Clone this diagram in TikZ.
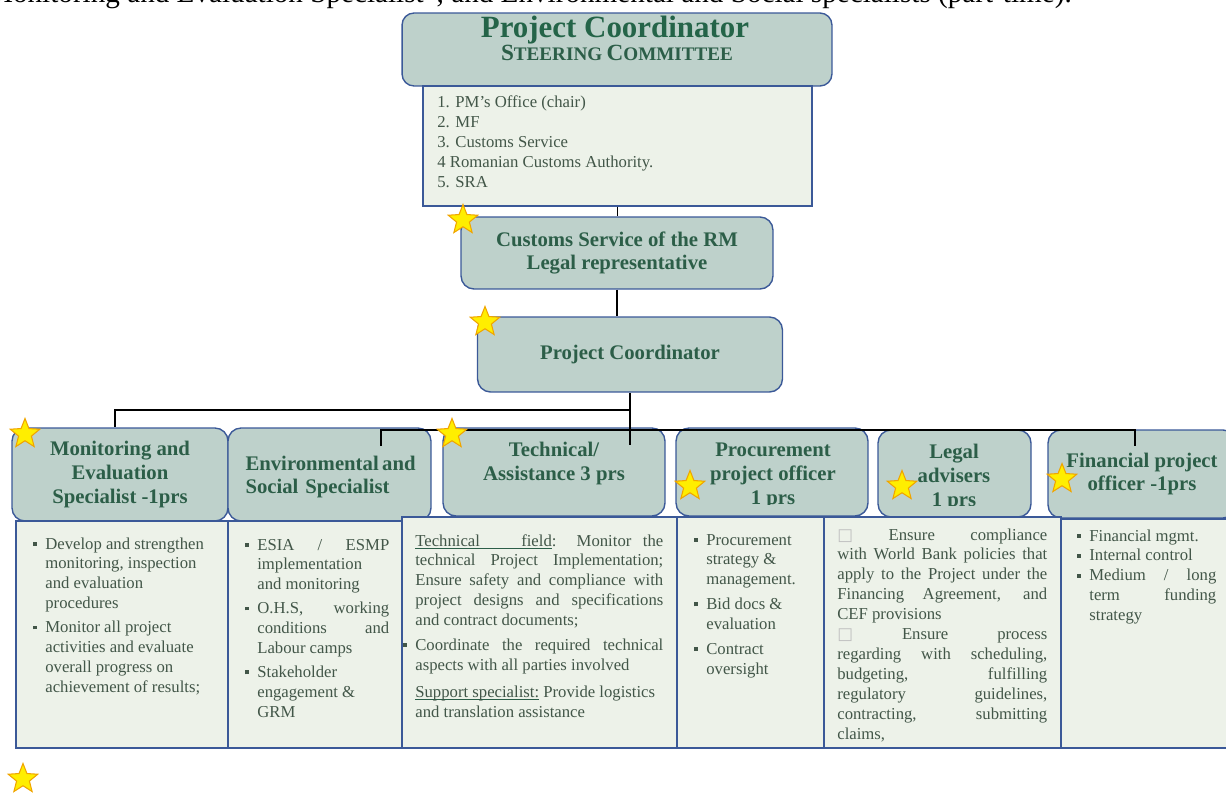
\documentclass[tikz,border=0pt]{standalone}
\usepackage{fontspec}
\setmainfont{Liberation Serif}
\newfontfamily\symfont{DejaVu Sans}
\usetikzlibrary{
  positioning,
  calc,
  shapes.geometric
}

\definecolor{hdfill}{RGB}{190,209,203}
\definecolor{detfill}{RGB}{237,242,233}
\definecolor{boxline}{RGB}{59,89,152}
\definecolor{hdgreen}{RGB}{44,94,72}
\definecolor{titlegreen}{RGB}{36,100,72}
\definecolor{bodytxt}{RGB}{66,86,72}
\definecolor{starfill}{RGB}{255,238,0}
\definecolor{starline}{RGB}{240,165,0}

\newcommand\plainsp{\spaceskip=0pt\xspaceskip=0pt\relax}
\newcommand\bsq{\leavevmode\llap{\rule[1.9pt]{2.2pt}{2.2pt}\hspace{4.6pt}}}
\newcommand\jl[1]{\leavevmode\makebox[\linewidth][s]{\plainsp #1}}
\newcommand\gbox{{\symfont\color{black!25}□}}
\newcommand\fsc[2]{{\fontsize{13.2}{14}\selectfont #1}{\fontsize{10.9}{14}\selectfont #2}}
% underline at a fixed depth, and an underlined stretchable space
\newcommand\ulw[1]{\leavevmode\setbox0\hbox{#1}\rlap{\color{hdgreen}\rule[-1.5pt]{\wd0}{0.45pt}}\box0\relax}
\newcommand\ulsp{\leavevmode{\color{hdgreen}\leaders\hrule height -1.05pt depth 1.5pt\hskip 2.4pt plus 6pt minus 0.8pt}}

\tikzset{
  hdbox/.style={rectangle, rounded corners=0.26cm, draw=boxline, line width=0.8pt,
    fill=hdfill, inner sep=0pt, align=center, text=hdgreen,
    font=\bfseries\fontsize{11.8}{13.6}\selectfont},
  hdtext/.style={inner sep=0pt, align=center, text=hdgreen,
    font=\bfseries\fontsize{11.8}{13.6}\selectfont},
  detbox/.style={rectangle, draw=boxline, line width=0.8pt, fill=detfill, inner sep=0pt},
  bodytext/.style={anchor=base west, inner sep=0pt, align=left, text=bodytxt,
    font=\fontsize{9.5}{11.34}\selectfont},
  goldstar/.style={star, star points=5, star point ratio=2.3, minimum size=0.62cm,
    inner sep=0pt, fill=starfill, draw=starline, line width=0.6pt},
  link/.style={draw=black, line width=1pt}
}

\begin{document}
\begin{tikzpicture}[x=0.02cm, y=-0.02cm]
  \useasboundingbox (0,0) rectangle (1226,794);

  % line of the page above the chart, cut by the frame
  \node[anchor=base east, inner sep=0pt, font=\fontsize{16.6}{18}\selectfont] (topline) at (1072,3)
    {Monitoring and Evaluation Specialist”, and Environmental and Social specialists (part-time).};

  % Steering committee
  \node[hdbox, rounded corners=0.24cm, minimum width=8.6cm, minimum height=1.46cm] (steer) at (617,49.5) {};
  \node[inner sep=0pt, text=titlegreen, font=\bfseries\fontsize{17.6}{18}\selectfont] (steertitle) at (615,30.5) {Project Coordinator};
  \node[inner sep=0pt, text=hdgreen, font=\bfseries] (steersub) at (617,53) {\fsc{S}{TEERING} \fsc{C}{OMMITTEE}};
  \node[detbox, minimum width=7.78cm, minimum height=2.4cm] (members) at (617.5,146) {};
  \node[bodytext, text width=7cm] (memberlist) at (437,108)
    {\plainsp 1. PM’s Office (chair)\\2. MF\\3. Customs Service\\4 Romanian Customs Authority.\\5. SRA};

  % Chain of command
  \node[hdbox, minimum width=6.24cm, minimum height=1.44cm] (customs) at (617,253)
    {Customs Service of the RM\\Legal representative};
  \node[hdbox, minimum width=6.1cm, minimum height=1.5cm] (pc) at (630,354.5) {Project Coordinator};

  % Specialists (headers)
  \node[hdbox, minimum width=4.32cm, minimum height=1.86cm] (me) at (120,474.5)
    {Monitoring and\\Evaluation\\Specialist -1prs};
  \node[hdbox, minimum width=4.06cm, minimum height=1.86cm] (env) at (329.5,474.5) {};
  \node[hdtext, text width=3.36cm, align=left] (envtxt) at ([yshift=-0.05cm]env.center)
    {\jl{Environmental and}\\Social Specialist};
  \node[hdbox, minimum width=4.44cm, minimum height=1.76cm] (tech) at (554,472) {};
  \node[hdtext] (techtxt) at ([yshift=0.17cm]tech.center) {Technical/\\Assistance 3 prs};
  \node[hdbox, minimum width=3.84cm, minimum height=1.76cm] (proc) at (772,472) {};
  \begin{scope}
    \clip (676,428) rectangle (868,504);
    \node[hdtext] (proctxt) at (773,476) {Procurement\\project officer\\1 prs};
  \end{scope}
  \node[hdbox, minimum width=3.06cm, minimum height=1.74cm] (legal) at (954.5,473.5) {};
  \begin{scope}
    \clip (878,430) rectangle (1031,505);
    \node[hdtext] (legaltxt) at (954,477.5) {Legal\\advisers\\1 prs};
  \end{scope}
  \node[hdbox, minimum width=3.76cm, minimum height=1.76cm] (fin) at (1142,474)
    {Financial project\\officer -1prs};

  % Specialists (tasks)
  \node[detbox, minimum width=4.24cm, minimum height=4.54cm] (med) at (122,634.5) {};
  \node[detbox, minimum width=3.48cm, minimum height=4.54cm] (envd) at (315,634.5) {};
  \node[detbox, minimum width=5.5cm, minimum height=4.62cm] (techd) at (539.5,632.5) {};
  \node[detbox, minimum width=2.94cm, minimum height=4.62cm] (procd) at (750.5,632.5) {};
  \node[detbox, minimum width=4.74cm, minimum height=4.62cm] (legald) at (942.5,632.5) {};
  \node[detbox, minimum width=3.38cm, minimum height=4.58cm] (find) at (1145.5,633.5) {};

  \node[bodytext, text width=3.3cm] (metasks) at (45,549)
    {\plainsp\bsq Develop and strengthen\\monitoring, inspection\\and evaluation\\procedures\\[2.3pt]
     \bsq Monitor all project\\activities and evaluate\\overall progress on\\achievement of results;};
  \node[bodytext, text width=2.64cm] (envtasks) at (257,550)
    {\plainsp\bsq\jl{ESIA / ESMP}\\implementation\\and monitoring\\[2.3pt]
     \bsq\jl{O.H.S, working}\\\jl{conditions and}\\Labour camps\\[2.3pt]
     \bsq Stakeholder\\engagement \&\\GRM};
  \node[bodytext, text width=4.96cm] (techtasks) at (415,546)
    {\plainsp\jl{\ulw{Technical}\ulsp\ulw{field}: Monitor the}\\\jl{technical Project Implementation;}\\
     \jl{Ensure safety and compliance with}\\\jl{project designs and specifications}\\
     and contract documents;\\[2.8pt]
     \bsq\jl{Coordinate the required technical}\\
     aspects with all parties involved\\[4pt]
     \ulw{Support}\ulsp\ulw{specialist:} Provide logistics\\and translation assistance};
  \node[bodytext, text width=2.2cm] (proctasks) at (706,545)
    {\plainsp\bsq Procurement\\strategy \&\\management.\\[2.8pt]
     \bsq Bid docs \&\\evaluation\\[2.8pt]
     \bsq Contract\\oversight};
  \node[bodytext, text width=4.2cm] (legaltasks) at (837,540)
    {\plainsp\jl{\gbox\ Ensure compliance}\\\jl{with World Bank policies that}\\
     \jl{apply to the Project under the}\\\jl{Financing Agreement, and}\\CEF provisions\\
     \jl{\gbox\ Ensure process}\\\jl{regarding with scheduling,}\\\jl{budgeting, fulfilling}\\
     \jl{regulatory guidelines,}\\\jl{contracting, submitting}\\claims,};
  \node[bodytext, text width=2.54cm] (fintasks) at (1089,541)
    {\plainsp\bsq Financial mgmt.\\\bsq Internal control\\\bsq\jl{Medium / long}\\\jl{term funding}\\strategy};

  % Connectors
  \coordinate (techend) at (630,445);
  \coordinate (hubA) at (630,410);
  \coordinate (busL) at (381,446);
  \coordinate (busLtop) at (381,430);
  \coordinate (busRtop) at (1135,430);
  \coordinate (busR) at (1135,446);
  \draw[link] (members.south) -- (members.south |- customs.north);
  \draw[link] (customs.south) -- (customs.south |- pc.north);
  \draw[link] (pc.south) -- (techend);
  \draw[link] (hubA) -| ([xshift=-0.1cm]me.north);
  \draw[link] (busL) -- (busLtop) -- (busRtop) -- (busR);

  % Stars
  \node[goldstar] (star1) at (25,434) {};
  \node[goldstar] (star2) at (463,220) {};
  \node[goldstar] (star3) at (485,322) {};
  \node[goldstar] (star4) at (452,434) {};
  \node[goldstar] (star5) at (690,486) {};
  \node[goldstar] (star6) at (902,486) {};
  \node[goldstar] (star7) at (1062,479) {};
  \node[goldstar] (star8) at (23,779) {};
\end{tikzpicture}
\end{document}
